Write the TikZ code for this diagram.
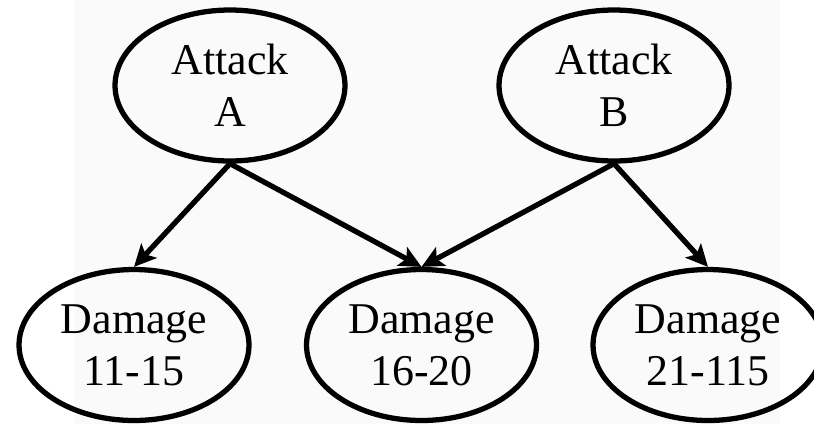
\documentclass[tikz,border=0pt]{standalone}
\usepackage{fontspec}
\setmainfont{Liberation Serif}
\usetikzlibrary{shapes.geometric,arrows.meta}
\definecolor{paper}{RGB}{250,250,250}
\tikzset{
  event/.style={draw, ellipse, line width=3pt, inner sep=0pt,
    minimum width=4.6cm, minimum height=3.02cm, align=center,
    font=\fontsize{25}{29.5}\selectfont},
  cause/.style={line width=3pt,
    -{Stealth[length=0.44cm, width=0.42cm, inset=0.1cm]}}
}
\begin{document}
\begin{tikzpicture}[x=0.02cm, y=-0.02cm]
    % Rahmen und Hintergrund
    \useasboundingbox (0,0) rectangle (814,424);
    \fill[paper] (74,0) rectangle (780,424);
    % Angriffe
    \node[event] (attA) at (230,85.5) {Attack\\A};
    \node[event] (attB) at (614,85.5) {Attack\\B};
    % Schaden
    \node[event] (dmg1) at (134,345) {Damage\\11-15};
    \node[event] (dmg2) at (421.5,345) {Damage\\16-20};
    \node[event] (dmg3) at (708,345) {Damage\\21-115};
    % Verbindungen
    \draw[cause] (attA.south) -- (dmg1.north);
    \draw[cause] (attA.south) -- (dmg2.north);
    \draw[cause] (attB.south) -- (dmg2.north);
    \draw[cause] (attB.south) -- (dmg3.north);
\end{tikzpicture}
\end{document}
